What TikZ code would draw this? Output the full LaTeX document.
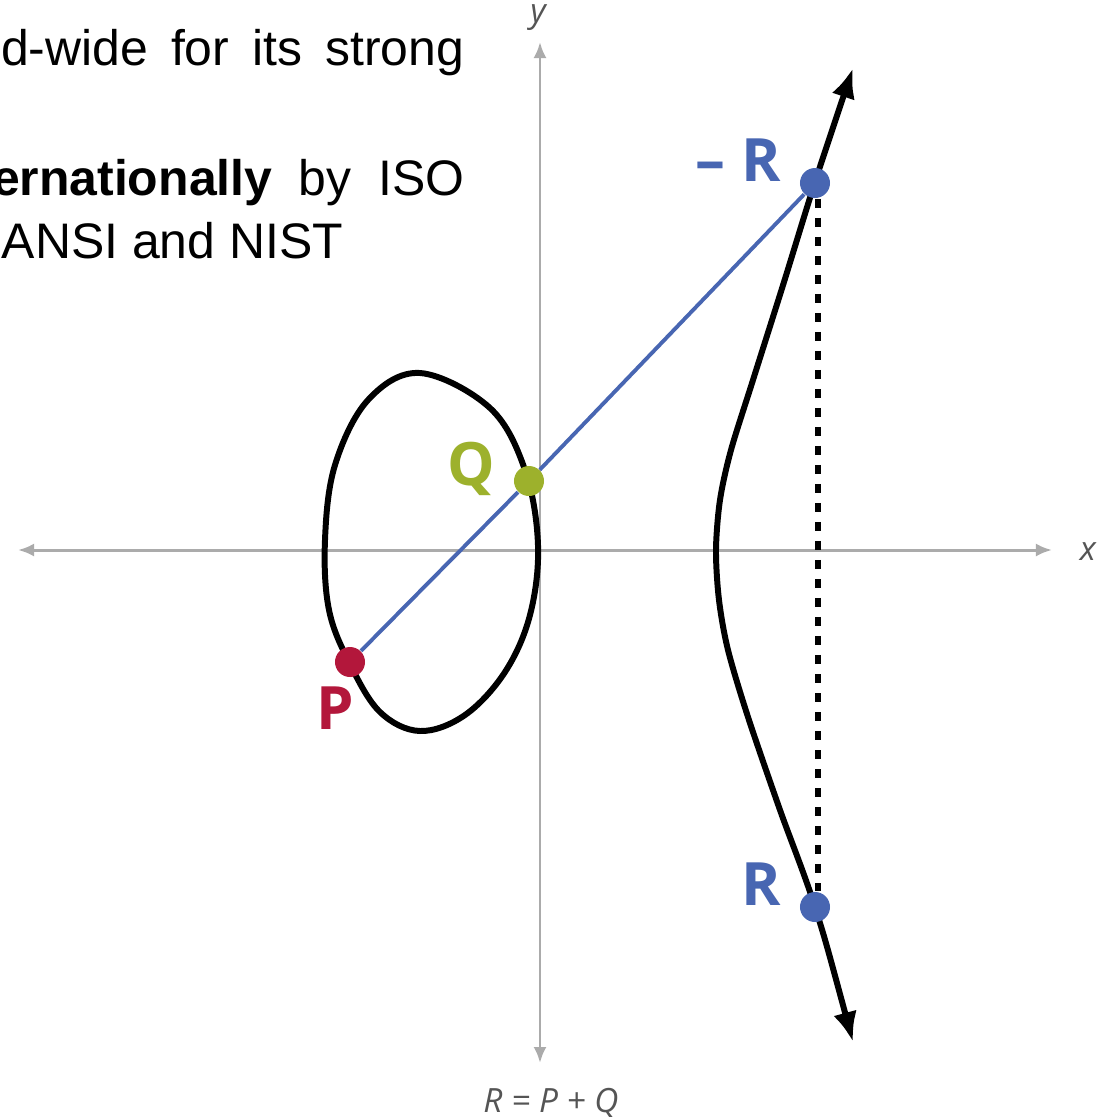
\documentclass[tikz,border=0pt]{standalone}
\usepackage{fontspec}
\setmainfont{Liberation Sans}
\newfontfamily\labfont{Open Sans}
\usepackage{tikz}
\usetikzlibrary{arrows.meta}
\usetikzlibrary{calc}
\definecolor{pcol}{HTML}{B3173B}
\definecolor{qcol}{HTML}{9DB12C}
\definecolor{rcol}{HTML}{4866B2}
\definecolor{axiscol}{HTML}{ABABAB}
\definecolor{axtext}{HTML}{555555}

\begin{document}
\begin{tikzpicture}[x=0.01cm,y=-0.01cm,
	main_node/.style={circle,draw=none,minimum size=0.3cm,inner sep=0pt},
	pt_label/.style={inner sep=0pt,font=\labfont\bfseries\fontsize{17}{17}\selectfont},
	ax_label/.style={inner sep=0pt,text=axtext,font=\labfont\itshape\fontsize{9.5}{9.5}\selectfont},
	txt_line/.style={inner sep=0pt,font=\fontsize{14.2}{18}\selectfont},
	axis_line/.style={axiscol,line width=0.85pt,{Latex[length=0.16cm,width=0.13cm]}-{Latex[length=0.16cm,width=0.13cm]}},
	curve_line/.style={black,line width=1.7pt}]
				\useasboundingbox (0,0) rectangle (1101,1117);
				\node[txt_line,anchor=base east](t1) at (465,65){\makebox[4.63cm][s]{d-wide for its strong}};
				\node[txt_line,anchor=base east](t2) at (465,195){\makebox[4.72cm][s]{\textbf{ernationally} by ISO}};
				\node[txt_line,anchor=base west](t3) at (1,258){ANSI and NIST};
				\draw[axis_line] (18,550) -- (1052,550);
				\draw[axis_line] (540,42) -- (540,1063);
				\node[ax_label](xl) at (1088,552){x};
				\node[ax_label](yl) at (538,18){y};
				\node[ax_label](eq) at (551,1103){R = P + Q};
				\draw[curve_line] plot[smooth cycle,tension=0.6] coordinates {(420,373) (490,408) (525,470) (538,545) (530,615) (505,672) (465,715) (420,731) (380,712) (350,664) (329,610) (325,540) (335,465) (368,400)};
				\draw[curve_line,{Latex[length=0.3cm,width=0.24cm]}-{Latex[length=0.3cm,width=0.24cm]}] plot[smooth] coordinates {(853,1042) (815,907) (780,810) (748,717) (728,650) (719,600) (716,550) (720,500) (731,450) (753,380) (784,282) (815,182) (853,68)};
				\node[main_node,fill=pcol,label={[pt_label,text=pcol,xshift=-0.15cm,yshift=-0.08cm]below:P}](1) at (350,662){};
				\node[main_node,fill=qcol,label={[pt_label,text=qcol,xshift=-0.17cm,yshift=0.12cm]left:Q}](2) at (529,481){};
				\node[main_node,fill=rcol,label={[pt_label,text=rcol,xshift=-0.18cm,yshift=0.23cm]left:– R}](3) at (815,183){};
				\node[main_node,fill=rcol,label={[pt_label,text=rcol,xshift=-0.18cm,yshift=0.23cm]left:R}](4) at (815,907){};
				\path[rcol,line width=1.1pt]
				(1) edge (2)
				(2) edge (3);
				\path[black,line width=1.7pt,dash pattern=on 0.09cm off 0.1cm,transform canvas={xshift=0.03cm}]
				(3) edge (4);
			\end{tikzpicture}
\end{document}
